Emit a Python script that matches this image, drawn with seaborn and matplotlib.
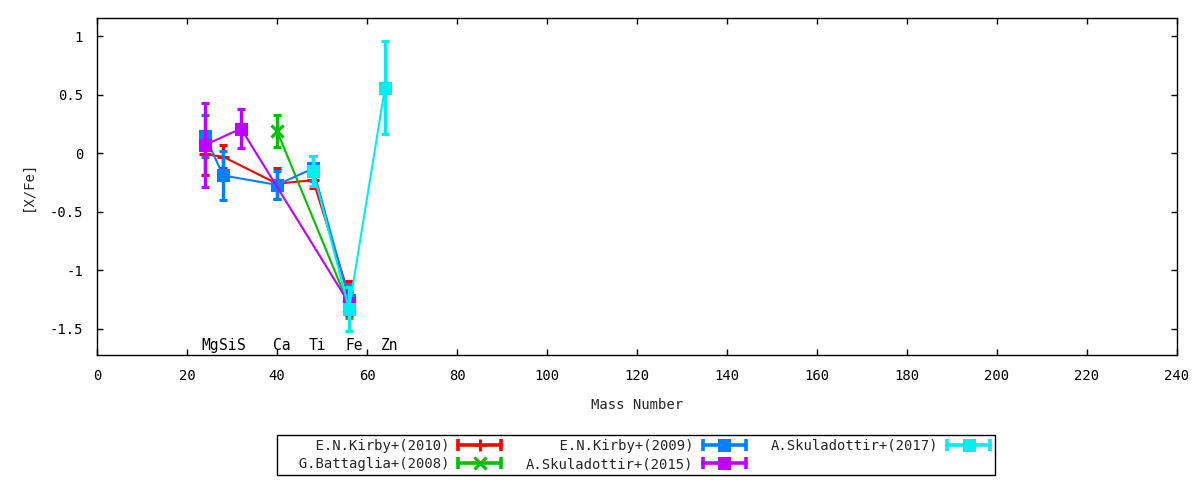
import numpy as np
import pandas as pd
import matplotlib
matplotlib.use("Agg")
import matplotlib.pyplot as plt
import seaborn as sns
from matplotlib.lines import Line2D
from matplotlib.legend_handler import HandlerBase

# ---------------- data ----------------
elements = ["Mg", "Si", "S", "Ca", "Ti", "Fe", "Zn"]
element_mass = [24, 28, 32, 40, 48, 56, 64]

kirby2010_mass = [24, 28, 40, 48, 56]
kirby2010_val = [-0.01, -0.03, -0.26, -0.23, -1.21]
kirby2010_err = [0.18, 0.10, 0.13, 0.07, 0.12]

battaglia2008_mass = [40, 56]
battaglia2008_val = [0.19, -1.30]
battaglia2008_err = [0.135, 0.11]

kirby2009_mass = [24, 28, 40, 48, 56]
kirby2009_val = [0.15, -0.19, -0.27, -0.13, -1.25]
kirby2009_err = [0.18, 0.21, 0.12, 0.11, 0.13]

skul2015_mass = [24, 32, 56]
skul2015_val = [0.07, 0.21, -1.28]
skul2015_err = [0.355, 0.165, 0.10]

skul2017_mass = [48, 56, 64]
skul2017_val = [-0.15, -1.33, 0.56]
skul2017_err = [0.13, 0.19, 0.40]

series_labels = ["E.N.Kirby+(2010)", "G.Battaglia+(2008)", "E.N.Kirby+(2009)",
                 "A.Skuladottir+(2015)", "A.Skuladottir+(2017)"]
series_colors = ["#ff0000", "#00c000", "#0080ff", "#c000ff", "#00eeee"]
series_markers = ["+", "x", "s", "s", "s"]

x_ticks = [0, 20, 40, 60, 80, 100, 120, 140, 160, 180, 200, 220, 240]
y_ticks = [-1.5, -1, -0.5, 0, 0.5, 1]
y_ticklabels = ["-1.5", "-1", "-0.5", "0", "0.5", "1"]

# ---------------- build table ----------------
frames = []
for lab, m, v, e in zip(series_labels,
                        [kirby2010_mass, battaglia2008_mass, kirby2009_mass, skul2015_mass, skul2017_mass],
                        [kirby2010_val, battaglia2008_val, kirby2009_val, skul2015_val, skul2017_val],
                        [kirby2010_err, battaglia2008_err, kirby2009_err, skul2015_err, skul2017_err]):
    frames.append(pd.DataFrame({"mass": m, "val": v, "err": e, "series": lab}))
df = pd.concat(frames, ignore_index=True)

# ---------------- style ----------------
sns.set_theme(style="ticks")
plt.rcParams["font.family"] = ["DejaVu Sans Mono", "DejaVu Sans"]
FS = 10
plt.rcParams["font.size"] = FS

fig = plt.figure(figsize=(12, 4.8), dpi=100)
ax = fig.add_axes([97 / 1200, 1 - 355 / 480, (1177 - 97) / 1200, (355 - 17.5) / 480])

for i, (lab, col, mk) in enumerate(zip(series_labels, series_colors, series_markers)):
    sub = df[df["series"] == lab]
    sns.lineplot(data=sub, x="mass", y="val", ax=ax, color=col, lw=1.5,
                 sort=False, estimator=None, legend=False, zorder=2 + i)
    ms = 7.5 if mk == "s" else 8
    ax.errorbar(sub["mass"], sub["val"], yerr=sub["err"], fmt=mk, color=col,
                ms=ms, mew=2.2, elinewidth=2.4, capsize=3, capthick=2.4,
                zorder=2 + i)

for el, m in zip(elements, element_mass):
    ax.text(m - 0.9, -1.637, el, ha="left", va="center", fontsize=10.5, color="black")

ax.set_xlim(0, 240)
ax.set_ylim(-1.722, 1.158)
ax.set_xticks(x_ticks)
ax.set_xticklabels([str(t) for t in x_ticks], fontsize=FS)
ax.set_yticks(y_ticks)
ax.set_yticklabels(y_ticklabels, fontsize=FS)
ax.tick_params(direction="in", length=4, width=1, top=True, right=True,
               labeltop=False, labelright=False, colors="black", pad=10)
for s in ax.spines.values():
    s.set_color("black")
    s.set_linewidth(1)
ax.set_xlabel("Mass Number", fontsize=FS, labelpad=11)
ax.set_ylabel("[X/Fe]", fontsize=FS, labelpad=11)


# ---------------- legend ----------------
class ErrHandler(HandlerBase):
    def create_artists(self, legend, orig_handle, xdescent, ydescent,
                       width, height, fontsize, trans):
        c = orig_handle.get_color()
        mk = orig_handle.get_marker()
        y = height / 2 - ydescent
        x0, x1 = -xdescent, width - xdescent
        line = Line2D([x0, x1], [y, y], color=c, lw=2.6)
        caps = Line2D([x0, x1], [y, y], ls="", marker="|", ms=8, mew=2.6, color=c)
        ms = 7.5 if mk == "s" else 8
        mid = Line2D([(x0 + x1) / 2], [y], ls="", marker=mk, ms=ms, mew=2.2, color=c)
        for a in (line, caps, mid):
            a.set_transform(trans)
        return [line, caps, mid]


# gnuplot pads every key entry to the width of the longest title
width_key = max(len(s) for s in series_labels)
legend_texts = [s.rjust(width_key) for s in series_labels]

handles = [Line2D([], [], color=c, marker=m) for c, m in zip(series_colors, series_markers)]
leg = fig.legend(handles, legend_texts, handler_map={Line2D: ErrHandler()},
                 loc="center", bbox_to_anchor=(636 / 1200, 1 - 455 / 480),
                 ncol=3, markerfirst=False, frameon=True, fancybox=False,
                 edgecolor="black", framealpha=1, fontsize=FS,
                 handlelength=3.1, handletextpad=0.65, columnspacing=1.8,
                 labelspacing=0.3, borderpad=0.3)
leg.get_frame().set_linewidth(1)

fig.savefig("out.png", dpi=100)
